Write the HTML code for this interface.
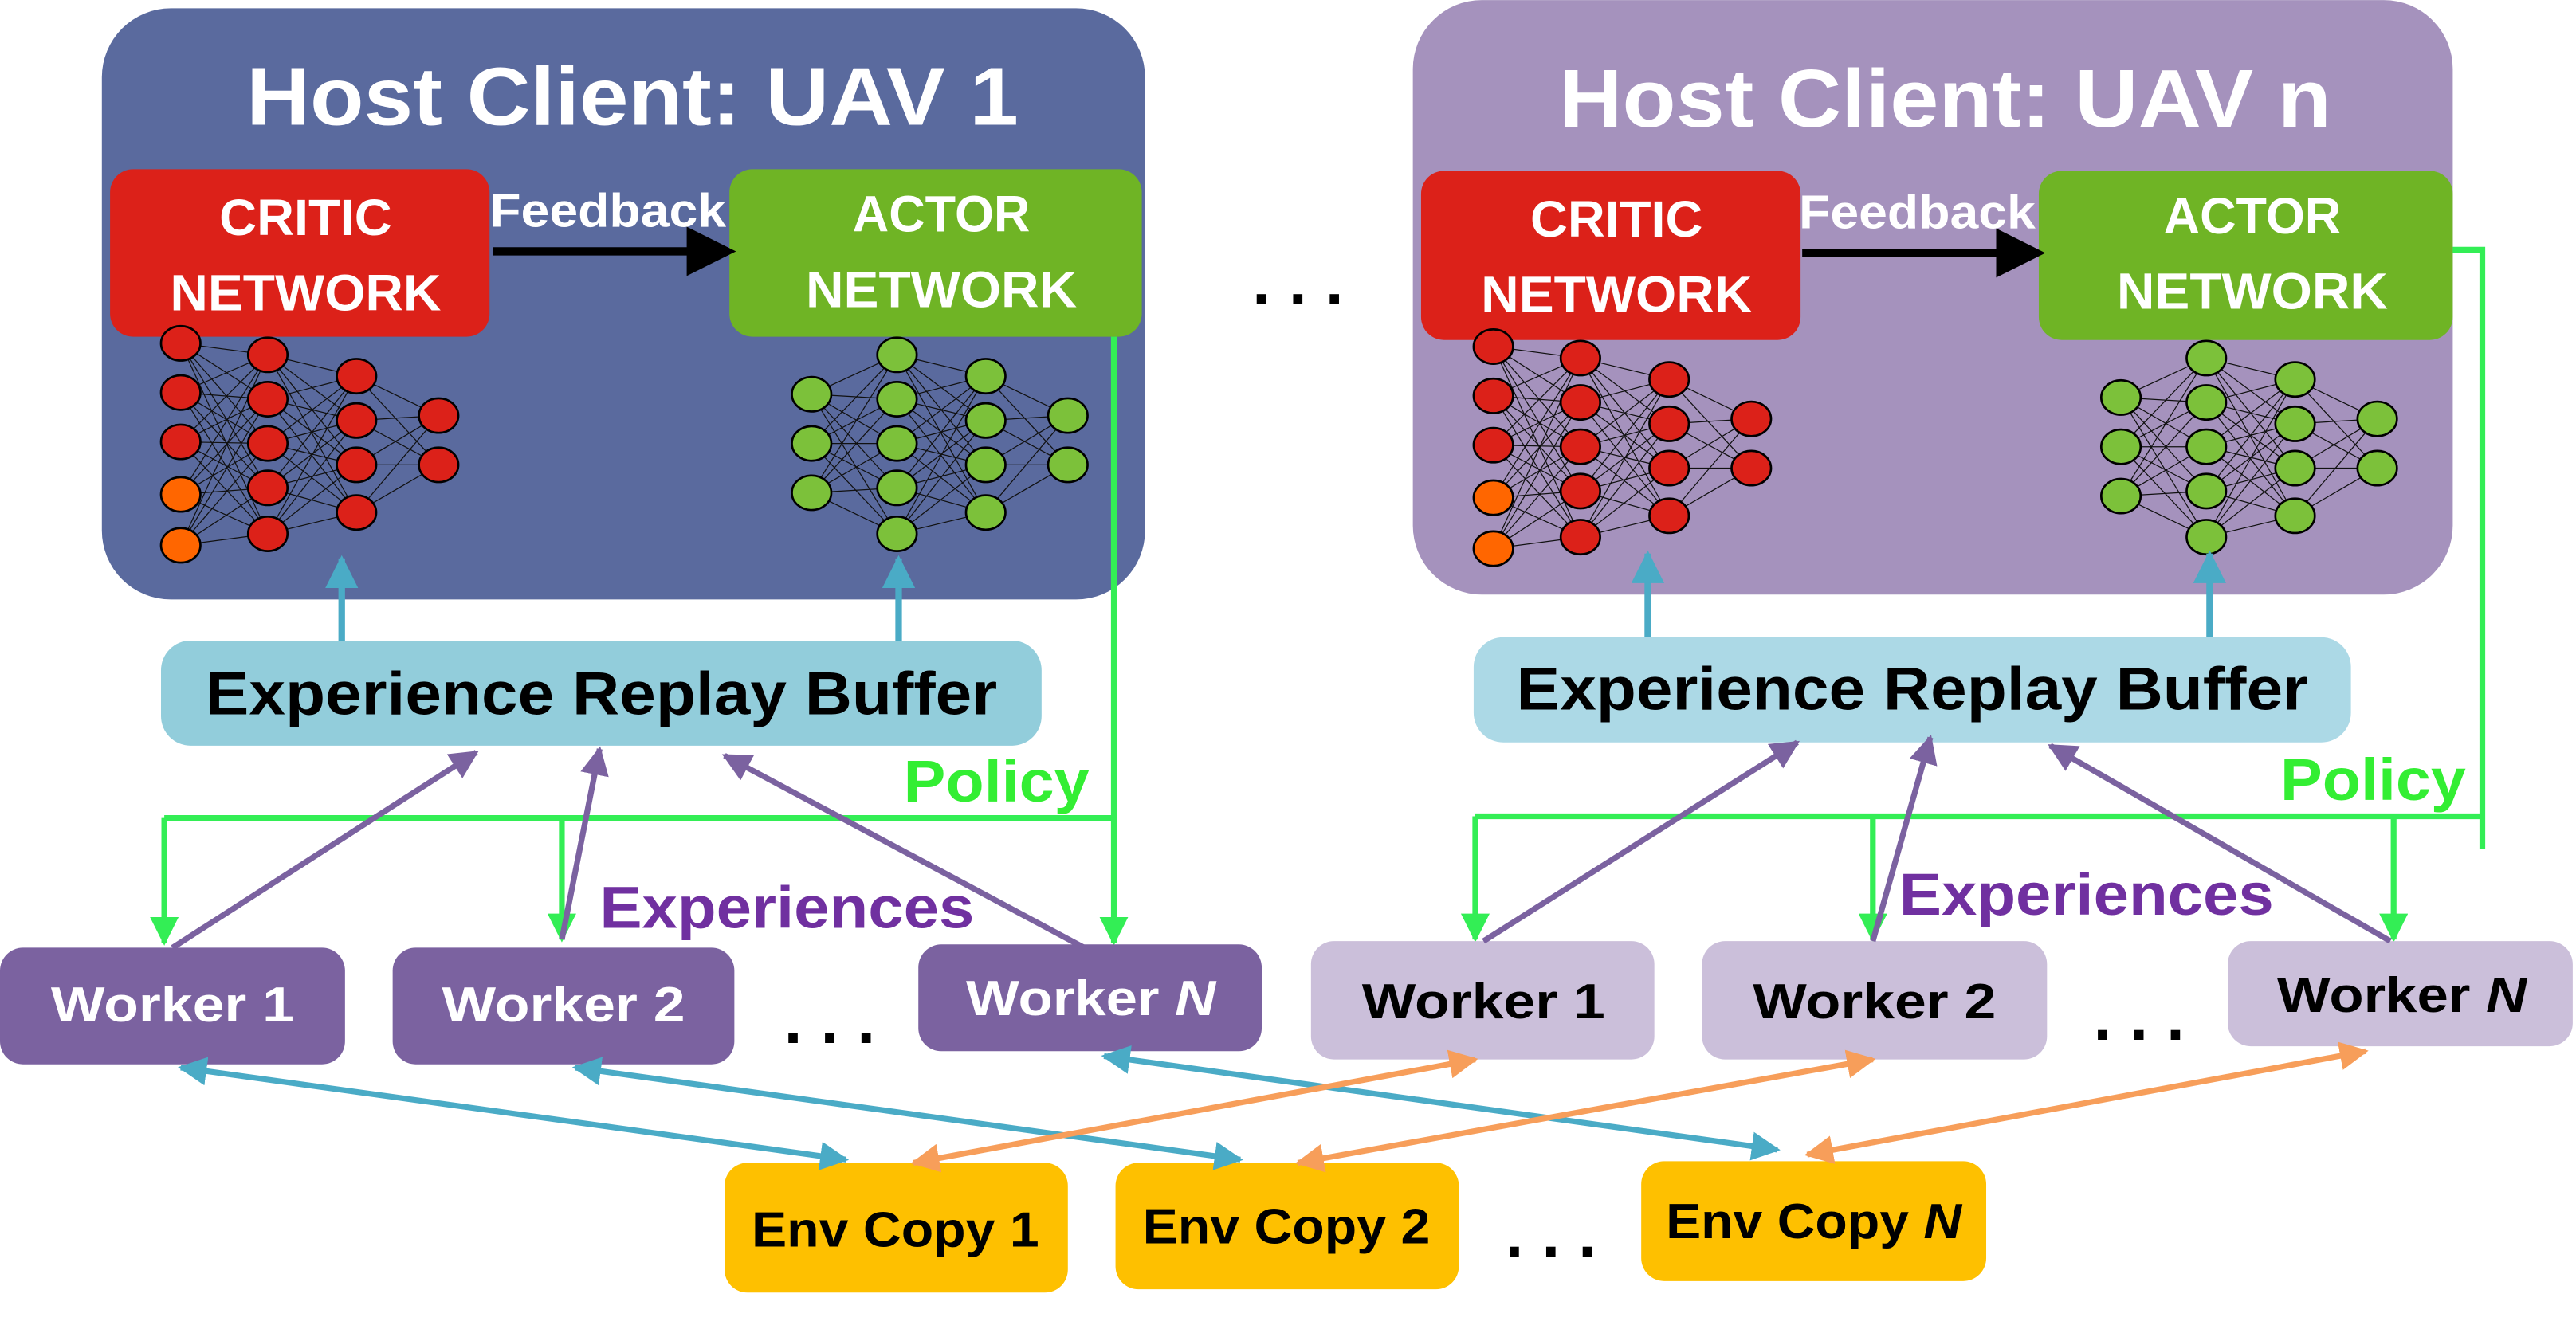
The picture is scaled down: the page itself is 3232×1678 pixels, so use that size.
<!DOCTYPE html>
<html><head><meta charset="utf-8"><style>
html,body{margin:0;padding:0;background:#fff;}
svg{display:block;}
text{font-family:"Liberation Sans",sans-serif;font-weight:bold;}
</style></head><body>
<svg id="s" width="3232" height="1678" viewBox="0 0 1568 814" xmlns="http://www.w3.org/2000/svg">
<defs>
<marker id="ab" markerWidth="6" markerHeight="6" refX="5" refY="3" orient="auto" markerUnits="strokeWidth"><path d="M0,0 L6,3 L0,6 z" fill="#000"/></marker>
<marker id="ag" markerWidth="5" markerHeight="5" refX="4.5" refY="2.5" orient="auto" markerUnits="strokeWidth"><path d="M0,0 L5,2.5 L0,5 z" fill="#33ee55"/></marker>
<marker id="ac" markerWidth="5" markerHeight="5" refX="4.5" refY="2.5" orient="auto-start-reverse" markerUnits="strokeWidth"><path d="M0,0 L5,2.5 L0,5 z" fill="#4aabc6"/></marker>
<marker id="ao" markerWidth="5" markerHeight="5" refX="4.5" refY="2.5" orient="auto-start-reverse" markerUnits="strokeWidth"><path d="M0,0 L5,2.5 L0,5 z" fill="#f79e5a"/></marker>
<marker id="ap" markerWidth="5" markerHeight="5" refX="4.5" refY="2.5" orient="auto" markerUnits="strokeWidth"><path d="M0,0 L5,2.5 L0,5 z" fill="#7b62a0"/></marker>
</defs>

<!-- Host boxes -->
<rect x="62" y="5" width="635" height="360" rx="42" fill="#5a6a9e"/>
<rect x="860" y="0" width="633" height="362" rx="42" fill="#a592bd"/>
<text x="385" y="76" font-size="50" fill="#fff" text-anchor="middle" textLength="470" lengthAdjust="spacingAndGlyphs">Host Client: UAV 1</text>
<text x="1184" y="77" font-size="50" fill="#fff" text-anchor="middle" textLength="470" lengthAdjust="spacingAndGlyphs">Host Client: UAV n</text>

<!-- critic/actor left -->
<rect x="67" y="103" width="231" height="102" rx="14" fill="#dc2119"/>
<rect x="444" y="103" width="251" height="102" rx="14" fill="#6fb425"/>
<text x="186" y="143" font-size="31" fill="#fff" text-anchor="middle" textLength="105" lengthAdjust="spacingAndGlyphs">CRITIC</text>
<text x="186" y="189" font-size="31" fill="#fff" text-anchor="middle" textLength="165" lengthAdjust="spacingAndGlyphs">NETWORK</text>
<text x="573" y="141" font-size="31" fill="#fff" text-anchor="middle" textLength="108" lengthAdjust="spacingAndGlyphs">ACTOR</text>
<text x="573" y="187" font-size="31" fill="#fff" text-anchor="middle" textLength="165" lengthAdjust="spacingAndGlyphs">NETWORK</text>
<text x="298" y="138" font-size="29" fill="#fff" textLength="144" lengthAdjust="spacingAndGlyphs">Feedback</text>
<line x1="300" y1="153" x2="443" y2="153" stroke="#000" stroke-width="5" marker-end="url(#ab)"/>
<!-- critic/actor right -->
<rect x="865" y="104" width="231" height="103" rx="14" fill="#dc2119"/>
<rect x="1241" y="104" width="252" height="103" rx="14" fill="#6fb425"/>
<text x="984" y="144" font-size="31" fill="#fff" text-anchor="middle" textLength="105" lengthAdjust="spacingAndGlyphs">CRITIC</text>
<text x="984" y="190" font-size="31" fill="#fff" text-anchor="middle" textLength="165" lengthAdjust="spacingAndGlyphs">NETWORK</text>
<text x="1371" y="142" font-size="31" fill="#fff" text-anchor="middle" textLength="108" lengthAdjust="spacingAndGlyphs">ACTOR</text>
<text x="1371" y="188" font-size="31" fill="#fff" text-anchor="middle" textLength="165" lengthAdjust="spacingAndGlyphs">NETWORK</text>
<text x="1095" y="139" font-size="29" fill="#fff" textLength="144" lengthAdjust="spacingAndGlyphs">Feedback</text>
<line x1="1097" y1="154" x2="1240" y2="154" stroke="#000" stroke-width="5" marker-end="url(#ab)"/>

<text x="790" y="185" font-size="40" fill="#000" text-anchor="middle">. . .</text>

<g id="nets"></g>

<!-- ERB -->
<rect x="98" y="390" width="536" height="64" rx="18" fill="#92cddb"/>
<text x="366" y="435" font-size="37" fill="#000" text-anchor="middle" textLength="482" lengthAdjust="spacingAndGlyphs">Experience Replay Buffer</text>
<rect x="897" y="388" width="534" height="64" rx="18" fill="#acd9e6"/>
<text x="1164" y="432" font-size="37" fill="#000" text-anchor="middle" textLength="482" lengthAdjust="spacingAndGlyphs">Experience Replay Buffer</text>

<g stroke="#4aabc6" stroke-width="4">
<line x1="208" y1="390" x2="208" y2="340" marker-end="url(#ac)"/>
<line x1="547" y1="390" x2="547" y2="340" marker-end="url(#ac)"/>
<line x1="1003" y1="388" x2="1003" y2="337" marker-end="url(#ac)"/>
<line x1="1345" y1="388" x2="1345" y2="337" marker-end="url(#ac)"/>
</g>

<!-- Policy green -->
<g stroke="#33ee55" stroke-width="3.5" fill="none">
<polyline points="678,205 678,498 100,498"/>
<line x1="100" y1="498" x2="100" y2="574" marker-end="url(#ag)"/>
<line x1="342" y1="498" x2="342" y2="572" marker-end="url(#ag)"/>
<line x1="678" y1="498" x2="678" y2="574" marker-end="url(#ag)"/>
<polyline points="1493,152 1511,152 1511,517"/>
<line x1="898" y1="497" x2="1511" y2="497"/>
<line x1="898" y1="497" x2="898" y2="572" marker-end="url(#ag)"/>
<line x1="1140" y1="497" x2="1140" y2="572" marker-end="url(#ag)"/>
<line x1="1457" y1="497" x2="1457" y2="572" marker-end="url(#ag)"/>
</g>
<text x="550" y="488" font-size="36" fill="#33ee33" textLength="113" lengthAdjust="spacingAndGlyphs">Policy</text>
<text x="1388" y="487" font-size="36" fill="#33ee33" textLength="113" lengthAdjust="spacingAndGlyphs">Policy</text>

<!-- Workers -->
<rect x="0" y="577" width="210" height="71" rx="14" fill="#7b62a0"/>
<rect x="239" y="577" width="208" height="71" rx="14" fill="#7b62a0"/>
<rect x="559" y="575" width="209" height="65" rx="14" fill="#7b62a0"/>
<text x="105" y="622" font-size="30" fill="#fff" text-anchor="middle" textLength="148" lengthAdjust="spacingAndGlyphs">Worker 1</text>
<text x="343" y="622" font-size="30" fill="#fff" text-anchor="middle" textLength="148" lengthAdjust="spacingAndGlyphs">Worker 2</text>
<text x="664" y="618" font-size="30" fill="#fff" text-anchor="middle" textLength="152" lengthAdjust="spacingAndGlyphs">Worker <tspan font-style="italic">N</tspan></text>
<text x="505" y="635" font-size="40" fill="#000" text-anchor="middle">. . .</text>
<rect x="798" y="573" width="209" height="72" rx="14" fill="#cbbfda"/>
<rect x="1036" y="573" width="210" height="72" rx="14" fill="#cbbfda"/>
<rect x="1356" y="573" width="210" height="64" rx="14" fill="#cbbfda"/>
<text x="903" y="620" font-size="30" fill="#000" text-anchor="middle" textLength="148" lengthAdjust="spacingAndGlyphs">Worker 1</text>
<text x="1141" y="620" font-size="30" fill="#000" text-anchor="middle" textLength="148" lengthAdjust="spacingAndGlyphs">Worker 2</text>
<text x="1462" y="616" font-size="30" fill="#000" text-anchor="middle" textLength="152" lengthAdjust="spacingAndGlyphs">Worker <tspan font-style="italic">N</tspan></text>
<text x="1302" y="633" font-size="40" fill="#000" text-anchor="middle">. . .</text>

<text x="365" y="565" font-size="36" fill="#7030a0" textLength="228" lengthAdjust="spacingAndGlyphs">Experiences</text>
<text x="1156" y="557" font-size="36" fill="#7030a0" textLength="228" lengthAdjust="spacingAndGlyphs">Experiences</text>

<g stroke="#7b62a0" stroke-width="3.5">
<line x1="105" y1="577" x2="290" y2="458" marker-end="url(#ap)"/>
<line x1="342" y1="572" x2="365" y2="456" marker-end="url(#ap)"/>
<line x1="660" y1="577" x2="441" y2="460" marker-end="url(#ap)"/>
<line x1="903" y1="573" x2="1094" y2="452" marker-end="url(#ap)"/>
<line x1="1140" y1="573" x2="1175" y2="449" marker-end="url(#ap)"/>
<line x1="1455" y1="573" x2="1248" y2="454" marker-end="url(#ap)"/>
</g>

<!-- Env -->
<rect x="441" y="708" width="209" height="79" rx="14" fill="#fec000"/>
<rect x="679" y="708" width="209" height="77" rx="14" fill="#fec000"/>
<rect x="999" y="707" width="210" height="73" rx="14" fill="#fec000"/>
<text x="545" y="759" font-size="30" fill="#000" text-anchor="middle" textLength="175" lengthAdjust="spacingAndGlyphs">Env Copy 1</text>
<text x="783" y="757" font-size="30" fill="#000" text-anchor="middle" textLength="175" lengthAdjust="spacingAndGlyphs">Env Copy 2</text>
<text x="1104" y="754" font-size="30" fill="#000" text-anchor="middle" textLength="180" lengthAdjust="spacingAndGlyphs">Env Copy <tspan font-style="italic">N</tspan></text>
<text x="944" y="765" font-size="40" fill="#000" text-anchor="middle">. . .</text>

<g stroke="#4aabc6" stroke-width="3.5">
<line x1="110" y1="650" x2="515" y2="706" marker-start="url(#ac)" marker-end="url(#ac)"/>
<line x1="350" y1="650" x2="755" y2="706" marker-start="url(#ac)" marker-end="url(#ac)"/>
<line x1="672" y1="643" x2="1082" y2="700" marker-start="url(#ac)" marker-end="url(#ac)"/>
</g>
<g stroke="#f79e5a" stroke-width="3.5">
<line x1="898" y1="645" x2="556" y2="708" marker-start="url(#ao)" marker-end="url(#ao)"/>
<line x1="1140" y1="645" x2="790" y2="708" marker-start="url(#ao)" marker-end="url(#ao)"/>
<line x1="1440" y1="640" x2="1100" y2="703" marker-start="url(#ao)" marker-end="url(#ao)"/>
</g>
</svg>
<script>
(function(){
var g=document.getElementById('nets'),ns='http://www.w3.org/2000/svg';
function net(ox,oy,cols,fills){
  var s='';
  for(var c=0;c<cols.length-1;c++)for(var i=0;i<cols[c].ys.length;i++)for(var j=0;j<cols[c+1].ys.length;j++)
    s+='<line x1="'+(ox+cols[c].x)+'" y1="'+(oy+cols[c].ys[i])+'" x2="'+(ox+cols[c+1].x)+'" y2="'+(oy+cols[c+1].ys[j])+'" stroke="#111" stroke-width="0.6"/>';
  for(var c=0;c<cols.length;c++)for(var i=0;i<cols[c].ys.length;i++)
    s+='<ellipse cx="'+(ox+cols[c].x)+'" cy="'+(oy+cols[c].ys[i])+'" rx="12" ry="10.5" fill="'+fills(c,i)+'" stroke="#000" stroke-width="1.3"/>';
  return s;
}
var critic=[{x:110,ys:[209,239,269,301,332]},{x:163,ys:[216,243,270,297,325]},{x:217,ys:[229,256,283,312]},{x:267,ys:[253,283]}];
var actor=[{x:494,ys:[240,270,300]},{x:546,ys:[216,243,270,297,325]},{x:600,ys:[229,256,283,312]},{x:650,ys:[253,283]}];
var cf=function(c,i){return (c==0&&i>=3)?'#ff6600':'#dc2119';};
var af=function(){return '#7cc13a';};
var h=net(0,0,critic,cf)+net(0,0,actor,af)+net(799,2,critic,cf)+net(797,2,actor,af);
var tmp=document.createElementNS(ns,'g');
tmp.innerHTML=h;g.parentNode.replaceChild(tmp,g);
})();
</script>
</body></html>
